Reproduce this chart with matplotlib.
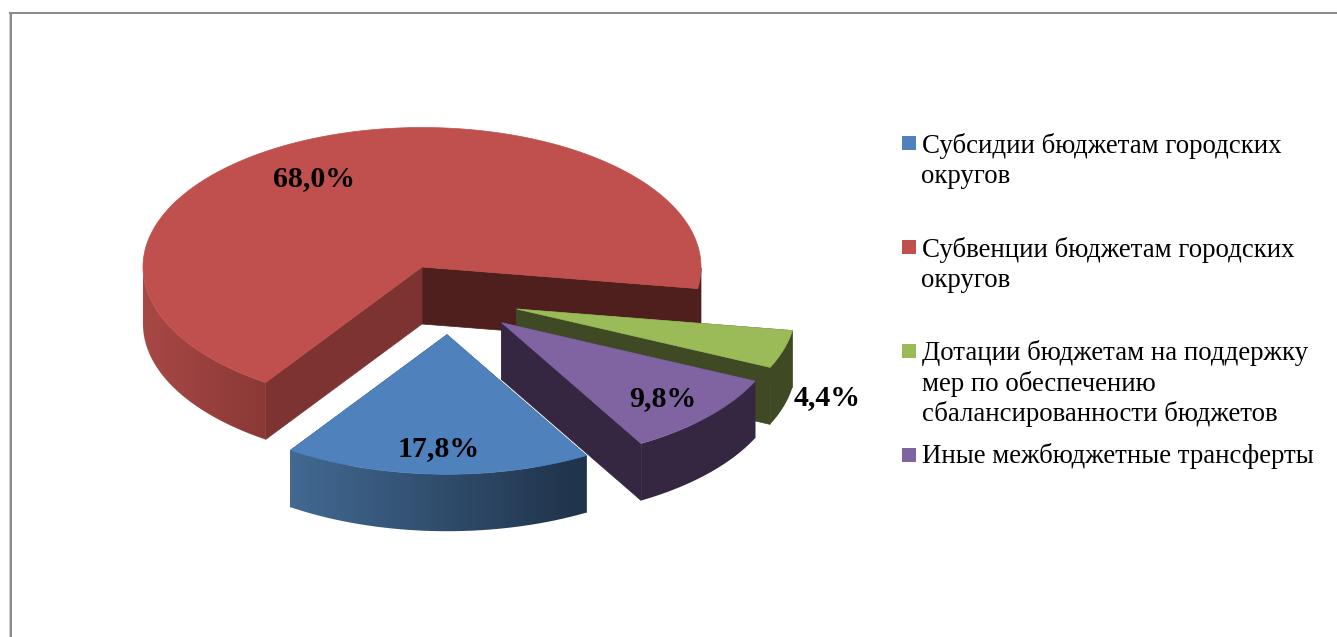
import numpy as np
import matplotlib
matplotlib.use("Agg")
import matplotlib.pyplot as plt
from matplotlib.patches import Polygon, Rectangle
from matplotlib.colors import LinearSegmentedColormap

# ---- data ----
categories = [
    "Субсидии бюджетам городских\nокругов",
    "Субвенции бюджетам городских\nокругов",
    "Дотации бюджетам на поддержку\nмер по обеспечению\nсбалансированности бюджетов",
    "Иные межбюджетные трансферты",
]
values = [17.8, 68.0, 4.4, 9.8]
value_labels = ["17,8%", "68,0%", "4,4%", "9,8%"]

# ---- styles / layout ----
top_colors = ["#4F81BD", "#C0504D", "#9BBB59", "#8064A2"]
wall_colors = [("#426992", "#1F3249"), ("#A84845", "#8A3937"), ("#3F4A24", "#3F4A24"), ("#352741", "#352741")]
first_edge_colors = ["#2A4365", "#7D3331", "#3F4A24", "#352741"]
last_edge_colors = ["#2A4365", "#4F1F1E", "#3F4A24", "#352741"]
apexes = [(447.0, 334.7), (422.0, 267.0), (516.7, 309.0), (501.7, 322.7)]
label_xy = [(438.5, 456), (314.5, 186.5), (827, 405.5), (662.5, 406.5)]
legend_y = [152.9, 256.9, 360.2, 463.2]
legend_squares_y = [136, 240, 344, 448.3]
RX, RY, DEPTH = 279.0, 139.5, 57.0
START = -8.9        # degrees, edge between the red and the green slice
LINE = 30.5
SERIF = "Liberation Serif"

W, H = 1337, 637
fig = plt.figure(figsize=(W / 100, H / 100), dpi=100, facecolor="white")
ax = fig.add_axes([0, 0, 1, 1])
ax.set_xlim(0, W)
ax.set_ylim(H, 0)
ax.axis("off")

# slice angle ranges, clockwise from START in the order green, purple, blue, red
order = [2, 3, 0, 1]
ranges = {}
a = START
for i in order:
    ranges[i] = (a, a - values[i] * 3.6)
    a = ranges[i][1]


def rim(apex, a0, a1, n=400):
    t = np.radians(np.linspace(a0, a1, n))
    return np.c_[apex[0] + RX * np.cos(t), apex[1] - RY * np.sin(t)]


def solid(points, color, z):
    ax.add_patch(Polygon(points, closed=True, fc=color, ec=color, lw=0.5, zorder=z))


def draw_slice(i, z):
    apex = apexes[i]
    a0, a1 = ranges[i]
    top = rim(apex, a0, a1)
    below = np.array([0, DEPTH])
    # flat cut walls
    solid([apex, top[-1], top[-1] + below, np.add(apex, below)], last_edge_colors[i], z)
    solid([apex, top[0], top[0] + below, np.add(apex, below)], first_edge_colors[i], z + 0.1)
    # outer wall: only the near side of the rim
    near = np.sin(np.radians(np.linspace(a0, a1, len(top)))) <= 0
    outer = top[near]
    if i == 1:  # the red rim is split in two by the hidden far side
        left = outer[:, 0] < apex[0]
        right = outer[left == False]
        solid(np.vstack([right, (right + below)[::-1]]), last_edge_colors[1], z + 0.1)
        outer = outer[left]
    wall = np.vstack([outer, (outer + below)[::-1]])
    clip = Polygon(wall, closed=True, fc="none", ec="none", zorder=z + 0.2)
    ax.add_patch(clip)
    cmap = LinearSegmentedColormap.from_list("w", wall_colors[i])
    im = ax.imshow(np.linspace(0, 1, 256)[None, :], cmap=cmap, aspect="auto",
                   extent=(outer[:, 0].min(), outer[:, 0].max(), H, 0),
                   zorder=z + 0.2, interpolation="bilinear")
    im.set_clip_path(clip)
    # top face
    solid(np.vstack([[apex], top]), top_colors[i], z + 0.3)


for z, i in zip([2, 3, 4, 5], [1, 2, 0, 3]):
    draw_slice(i, z)

ax.set_xlim(0, W)
ax.set_ylim(H, 0)

# data labels
for i, (x, y) in enumerate(label_xy):
    ax.text(x, y, value_labels[i], family=SERIF, weight="bold", fontsize=21.5,
            color="black", ha="center", va="baseline", zorder=10)

# legend
for i, name in enumerate(categories):
    ax.add_patch(Rectangle((902, legend_squares_y[i]), 13.7, 13.8, fc=top_colors[i], ec="none", zorder=10))
    for k, line in enumerate(name.split("\n")):
        ax.text(921.5, legend_y[i] + k * LINE, line, family=SERIF, fontsize=19.35,
                color="black", ha="left", va="baseline", zorder=10)

# outer frame
ax.add_patch(Rectangle((9, 12), 1, H - 12, fc="#D0D0D0", ec="none", zorder=1))
ax.add_patch(Rectangle((10, 12), 2, H - 12, fc="#8C8C8C", ec="none", zorder=1))
ax.add_patch(Rectangle((9, 12), W - 9, 1.5, fc="#8C8C8C", ec="none", zorder=1))

fig.savefig("out.png", dpi=100, facecolor="white")
